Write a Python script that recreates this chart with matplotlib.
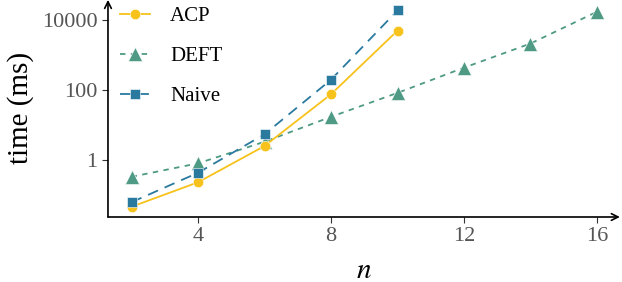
import matplotlib
matplotlib.use("Agg")
import matplotlib.pyplot as plt

plt.rcParams["font.family"] = ["Liberation Serif", "DejaVu Serif"]
plt.rcParams["mathtext.fontset"] = "stix"

# valores (tempo em ms, escala log)
n_acp = [2, 4, 6, 8, 10]
t_acp = [0.046, 0.23, 2.5, 75, 4900]

n_deft = [2, 4, 6, 8, 10, 12, 14, 16]
t_deft = [0.33, 0.8, 3.3, 17, 82, 430, 2100, 17000]

n_naive = [2, 4, 6, 8, 10]
t_naive = [0.062, 0.43, 5.4, 195, 18500]

ticks_x = [4, 8, 12, 16]
ticks_y = [1, 100, 10000]

cor_acp = "#F7C21B"
cor_deft = "#4E9A84"
cor_naive = "#2A7AA0"

fig = plt.figure(figsize=(6.22, 2.82), dpi=100)
ax = fig.add_axes([0.1736, 0.2305, 0.823, 0.77])

ax.plot(n_acp, t_acp, "-", color=cor_acp, lw=1.3, marker="o", ms=7.5,
        markeredgecolor="white", markeredgewidth=0.4, label="ACP", zorder=3)
ax.plot(n_deft, t_deft, color=cor_deft, lw=1.3, ls=(0, (3, 3)), marker="^", ms=10,
        markeredgecolor="white", markeredgewidth=0.4, label="DEFT", zorder=2)
ax.plot(n_naive, t_naive, color=cor_naive, lw=1.3, ls=(0, (6, 4)), marker="s", ms=7.5,
        markeredgecolor="white", markeredgewidth=0.4, label="Naive", zorder=4)

ax.set_yscale("log")
ax.set_xlim(1.29, 16.69)
ax.set_ylim(10 ** -1.63, 10 ** 4.57)
ax.set_xticks(ticks_x)
ax.set_xticklabels([str(v) for v in ticks_x])
ax.set_yticks(ticks_y)
ax.set_yticklabels([str(v) for v in ticks_y])
ax.minorticks_off()
ax.tick_params(axis="both", which="major", labelsize=16, labelcolor="#555555",
               color="#333333", length=4, width=0.8, direction="out")

for lado in ["top", "right", "left", "bottom"]:
    ax.spines[lado].set_visible(False)

# eixos com seta, estilo ggplot
ax.annotate("", xy=(1.0, 0), xytext=(0, 0), xycoords="axes fraction",
            arrowprops=dict(arrowstyle="->", color="black", lw=1.2,
                            shrinkA=0, shrinkB=0, mutation_scale=12), annotation_clip=False)
ax.annotate("", xy=(0, 1.0), xytext=(0, 0), xycoords="axes fraction",
            arrowprops=dict(arrowstyle="->", color="black", lw=1.2,
                            shrinkA=0, shrinkB=0, mutation_scale=12), annotation_clip=False)

ax.set_xlabel("$n$", fontsize=21, labelpad=8)
ax.set_ylabel("time (ms)", fontsize=21, labelpad=6)

ax.legend(loc="upper left", bbox_to_anchor=(-0.005, 1.035), frameon=False, fontsize=15,
          handlelength=1.45, labelspacing=0.98, handletextpad=0.95, borderaxespad=0.3)

fig.savefig("out.png", dpi=100)
